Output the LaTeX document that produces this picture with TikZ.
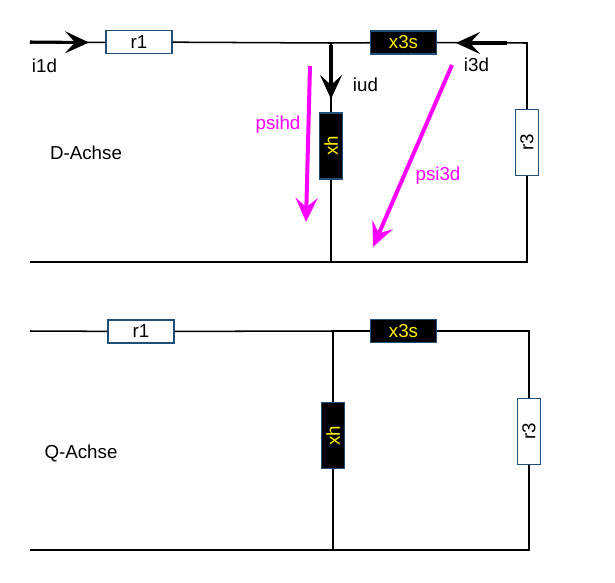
\documentclass[tikz,border=0pt]{standalone}
\usepackage{fontspec}
\setmainfont{Liberation Sans}
\usetikzlibrary{arrows.meta}
\definecolor{boxblue}{RGB}{31,78,121}
\definecolor{psimag}{RGB}{255,0,255}
\tikzset{
	wire/.style={line width=1.3pt},
	rbox/.style={draw=boxblue,line width=1.2pt,fill=white,minimum width=1.98cm,minimum height=0.68cm,inner sep=0pt,font=\fontsize{16}{16}\selectfont},
	xbox/.style={rbox,fill=black,text=yellow},
	lbl/.style={inner sep=0pt,font=\fontsize{16}{16}\selectfont},
	psilbl/.style={lbl,text=psimag},
	curr/.style={line width=2.6pt,-{Stealth[length=0.72cm,width=0.66cm,inset=0.3cm]}},
	flux/.style={draw=psimag,line width=3.4pt,-{Stealth[length=0.72cm,width=0.66cm,inset=0.27cm,fill=psimag]}}
}
\begin{document}
\begin{tikzpicture}[x=0.03cm,y=-0.03cm]
	\useasboundingbox (0,0) rectangle (615,582);
	% D-Achse
	\coordinate (da) at (30,43);
	\coordinate (dj) at (331,43);
	\coordinate (dc) at (527,43);
	\coordinate (db) at (30,262);
	\coordinate (dk) at (331,262);
	\coordinate (dd) at (527,262);
	\node[rbox] (dr1) at (139,42) {r1};
	\node[xbox] (dx3s) at (403.5,42.5) {x3s};
	\node[xbox,rotate=90] (dxh) at (331,146) {xh};
	\node[rbox,rotate=90] (dr3) at (527,142.5) {r3};
	\draw[wire] (da) -- (dr1);
	\draw[wire] (dr1) -- (dj) -- (dx3s);
	\draw[wire] (dx3s) -- (dc) -- (dr3);
	\draw[wire] (dr3) -- (dd) -- (dk) -- (db);
	\draw[wire] (dj) -- (dxh);
	\draw[wire] (dxh) -- (dk);
	% Strom
	\coordinate (i1a) at (30,42);
	\coordinate (i1b) at (89,42.5);
	\coordinate (iua) at (331,45);
	\coordinate (iub) at (331,99);
	\coordinate (i3a) at (507,43);
	\coordinate (i3b) at (456,43);
	\draw[curr] (i1a) -- (i1b);
	\draw[curr] (iua) -- (iub);
	\draw[curr] (i3a) -- (i3b);
	\node[lbl] (li1d) at (44.5,66) {i1d};
	\node[lbl] (liud) at (365.5,84.5) {iud};
	\node[lbl] (li3d) at (476.5,65) {i3d};
	% Fluss
	\coordinate (pha) at (310,66);
	\coordinate (phb) at (306,222);
	\coordinate (p3a) at (452,65);
	\coordinate (p3b) at (373,247);
	\draw[flux] (pha) -- (phb);
	\draw[flux] (p3a) -- (p3b);
	\node[psilbl] (lpsih) at (278,125) {psihd};
	\node[psilbl] (lpsi3) at (438,176) {psi3d};
	\node[lbl] (ldachse) at (86,153) {D-Achse};
	%
	% Q-Achse
	\coordinate (qa) at (30,331);
	\coordinate (qj) at (333,331);
	\coordinate (qc) at (529,331);
	\coordinate (qb) at (30,550);
	\coordinate (qk) at (333,550);
	\coordinate (qd) at (529,550);
	\node[rbox] (qr1) at (141,331.5) {r1};
	\node[xbox] (qx3s) at (403.5,331) {x3s};
	\node[xbox,rotate=90] (qxh) at (333,435.5) {xh};
	\node[rbox,rotate=90] (qr3) at (529,431.5) {r3};
	\draw[wire] (qa) -- (qr1);
	\draw[wire] (qr1) -- (qj) -- (qx3s);
	\draw[wire] (qx3s) -- (qc) -- (qr3);
	\draw[wire] (qr3) -- (qd) -- (qk) -- (qb);
	\draw[wire] (qj) -- (qxh);
	\draw[wire] (qxh) -- (qk);
	\node[lbl] (lqachse) at (81,453.5) {Q-Achse};
\end{tikzpicture}
\end{document}
